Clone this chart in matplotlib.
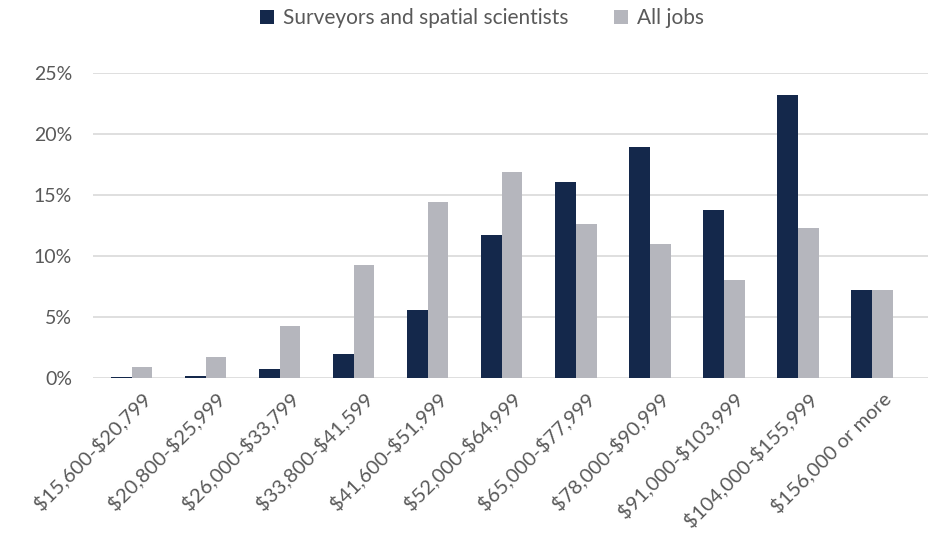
import numpy as np
import matplotlib.pyplot as plt
from matplotlib.ticker import FuncFormatter

plt.rcParams['font.family'] = ['Lato', 'DejaVu Sans']
plt.rcParams['text.parse_math'] = False  # labels contain '$'

categories = ['$15,600-$20,799', '$20,800-$25,999', '$26,000-$33,799',
              '$33,800-$41,599', '$41,600-$51,999', '$52,000-$64,999',
              '$65,000-$77,999', '$78,000-$90,999', '$91,000-$103,999',
              '$104,000-$155,999', '$156,000 or more']
surveyors = [0.1, 0.2, 0.7, 2.0, 5.6, 11.7, 16.1, 18.9, 13.8, 23.2, 7.2]
all_jobs = [0.9, 1.7, 4.3, 9.3, 14.4, 16.9, 12.6, 11.0, 8.0, 12.3, 7.2]

navy = '#14284b'
grey = '#b5b6bd'
txt = '#595959'

fig = plt.figure(figsize=(9.29, 5.45), dpi=100)
ax = fig.add_axes([93/929, 1 - 378/545, 1 - 93/929, (378 - 73)/545])

x = np.arange(len(categories))
w = 0.28
ax.bar(x - w/2, surveyors, w, color=navy, label='Surveyors and spatial scientists', zorder=3)
ax.bar(x + w/2, all_jobs, w, color=grey, label='All jobs', zorder=3)

ax.set_ylim(0, 25)
ax.set_xlim(-0.52, 10.77)
ax.set_yticks(np.arange(0, 26, 5))
ax.yaxis.set_major_formatter(FuncFormatter(lambda v, p: '%d%%' % v))
ax.grid(axis='y', color='#d9d9d9', linewidth=1.2, zorder=0)
for s in ax.spines.values():
    s.set_visible(False)
ax.tick_params(axis='y', length=0, labelsize=14, labelcolor=txt, pad=15)
ax.tick_params(axis='x', length=0, labelsize=14.5, labelcolor=txt, pad=8)
ax.set_xticks(x + 0.13)
ax.set_xticklabels(categories, rotation=45, ha='right', rotation_mode='anchor')

ax.legend(loc='center', bbox_to_anchor=(0.465, 1.18), ncol=2, frameon=False,
          fontsize=15, labelcolor=txt, handlelength=0.7, handleheight=0.7,
          columnspacing=2.2, handletextpad=0.4)

fig.savefig('out.png', dpi=100)
